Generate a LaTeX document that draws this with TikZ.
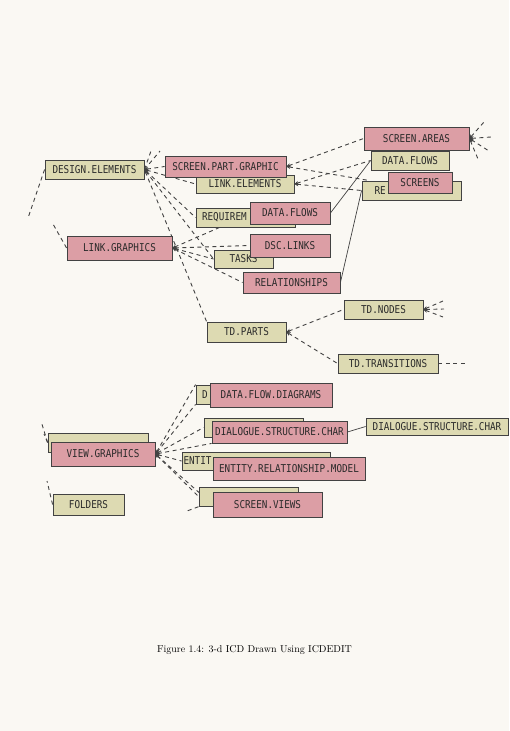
\documentclass[tikz,border=0pt]{standalone}
\usepackage{fontspec}
\usepackage{xcolor}
\usepackage{tikz}
\usetikzlibrary{arrows.meta}
\newfontfamily\icdfont[FakeStretch=0.86]{DejaVu Sans Mono}
\definecolor{paper}{HTML}{FAF8F3}
\definecolor{tanfill}{HTML}{DDDAB2}
\definecolor{pinkfill}{HTML}{DC9EA5}
\definecolor{edge}{HTML}{424242}
\definecolor{ink}{HTML}{2A2A2A}
\pgfdeclarelayer{paperlayer}
\pgfdeclarelayer{links}
\pgfsetlayers{paperlayer,links,main}

\begin{document}
\begin{tikzpicture}[x=1pt, y=-1pt, >={Stealth[length=4pt,width=3.8pt]},
  icdbox/.style={draw=edge, line width=0.85pt, inner sep=0pt, text=ink,
                 font=\icdfont\fontsize{10.8}{12}\selectfont},
  tanbox/.style={icdbox, fill=tanfill},
  pinkbox/.style={icdbox, fill=pinkfill},
  link/.style={draw=edge, line width=0.9pt, dash pattern=on 4pt off 3.5pt},
  solidlink/.style={draw=edge, line width=0.7pt}]
  \begin{pgfonlayer}{paperlayer}
    \fill[paper] (0,0) rectangle (509,731);
  \end{pgfonlayer}
  \useasboundingbox (0,0) rectangle (509,731);

  % upper group
  \node[tanbox, minimum width=99pt, minimum height=19pt] (de) at (94.5,169.5) {DESIGN.ELEMENTS};
  \node[tanbox, minimum width=98pt, minimum height=18pt] (le) at (245,184) {LINK.ELEMENTS};
  \node[pinkbox, minimum width=121pt, minimum height=21pt] (spg) at (225.5,166.5) {SCREEN.PART.GRAPHIC};
  \node[tanbox, text width=87pt, inner xsep=6pt, minimum height=19pt, align=left] (req) at (245.5,217.5) {REQUIREM};
  \node[pinkbox, minimum width=80pt, minimum height=22pt] (dfl) at (290,213) {DATA.FLOWS};
  \node[pinkbox, minimum width=105pt, minimum height=24pt] (lg) at (119.5,248) {LINK.GRAPHICS};
  \node[tanbox, minimum width=59pt, minimum height=18pt] (tasks) at (243.5,259) {TASKS};
  \node[pinkbox, minimum width=80pt, minimum height=23pt] (dsc) at (290,245.5) {DSC.LINKS};
  \node[pinkbox, minimum width=97pt, minimum height=21pt] (rel) at (291.5,282.5) {RELATIONSHIPS};
  \node[pinkbox, minimum width=105pt, minimum height=23pt] (sa) at (416.5,138.5) {SCREEN.AREAS};
  \node[tanbox, minimum width=78pt, minimum height=19pt] (dft) at (410,160.5) {DATA.FLOWS};
  \node[tanbox, text width=86pt, inner xsep=6.5pt, minimum height=19pt, align=left] (ret) at (411.5,190.5) {\hspace*{6pt}RE};
  \node[pinkbox, minimum width=64pt, minimum height=21pt] (scr) at (420,182.5) {SCREENS};
  \node[tanbox, minimum width=79pt, minimum height=19pt] (tdn) at (383.5,309.5) {TD.NODES};
  \node[tanbox, minimum width=79pt, minimum height=20pt] (tdp) at (246.5,332) {TD.PARTS};
  \node[tanbox, minimum width=100pt, minimum height=19pt] (tdt) at (388,363.5) {TD.TRANSITIONS};

  % lower group
  \node[tanbox, minimum width=100pt, minimum height=19pt] (dvt) at (98,442.5) {};
  \node[pinkbox, minimum width=104pt, minimum height=24pt] (vg) at (103,454) {VIEW.GRAPHICS};
  \node[tanbox, minimum width=71pt, minimum height=21pt] (fold) at (88.5,504.5) {FOLDERS};
  \node[tanbox, text width=88pt, inner xsep=6pt, minimum height=19pt, align=left] (dfdt) at (246,394.5) {D};
  \node[pinkbox, minimum width=122pt, minimum height=24pt] (dfdp) at (271,395) {DATA.FLOW.DIAGRAMS};
  \node[tanbox, minimum width=99pt, minimum height=19pt] (dlgt) at (253.5,427.5) {};
  \node[pinkbox, minimum width=135pt, minimum height=22pt] (dlgp) at (279.5,432) {DIALOGUE.STRUCTURE.CHAR};
  \node[tanbox, minimum width=142pt, minimum height=17pt] (dlgr) at (437,426.5) {DIALOGUE.STRUCTURE.CHAR};
  \node[tanbox, text width=145pt, inner xsep=1.5pt, minimum height=18pt, align=left] (ermt) at (256,461) {ENTIT};
  \node[pinkbox, minimum width=152pt, minimum height=23pt] (ermp) at (289,468.5) {ENTITY.RELATIONSHIP.MODEL};
  \node[tanbox, minimum width=99pt, minimum height=19pt] (svt) at (248.5,496.5) {};
  \node[pinkbox, minimum width=109pt, minimum height=25pt] (svp) at (267.5,504.5) {SCREEN.VIEWS};

  \node[font=\fontsize{10}{12}\selectfont] (cap) at (254.5,650) {Figure 1.4: 3-d ICD Drawn Using ICDEDIT};

  % loose ends
  \coordinate (deu1) at (151,151);
  \coordinate (deu2) at (160,151);
  \coordinate (dew) at (28,218);
  \coordinate (lgw) at (53,224);
  \coordinate (sa1) at (484,122);
  \coordinate (sa2) at (491,137);
  \coordinate (sa3) at (489,151);
  \coordinate (sa4) at (478,159);
  \coordinate (tdn1) at (443,301);
  \coordinate (tdn2) at (444,309);
  \coordinate (tdn3) at (443,317);
  \coordinate (tdte) at (465,363.5);
  \coordinate (dvw1) at (41,421);
  \coordinate (dvw2) at (44,434);
  \coordinate (foldw) at (47,481);
  \coordinate (svw) at (187,511);

  \begin{pgfonlayer}{links}
    \draw[link,<-] (de.east) -- (spg.west);
    \draw[link,<-] (de.east) -- (le.west);
    \draw[link,<-] (de.east) -- (req.west);
    \draw[link,<-] (de.east) -- (tasks.west);
    \draw[link,<-] (de.east) -- (tdp.north west);
    \draw[link] (de.east) -- (deu1);
    \draw[link] (de.east) -- (deu2);
    \draw[link] (de.west) -- (dew);
    \draw[link,<-] (lg.east) -- ([xshift=24pt]req.south west);
    \draw[link,<-] (lg.east) -- (dsc.west);
    \draw[link,<-] (lg.east) -- (tasks.west);
    \draw[link,<-] (lg.east) -- (rel.west);
    \draw[link] (lg.west) -- (lgw);
    \draw[link,<-] (spg.east) -- (sa.west);
    \draw[link,<-] (spg.east) -- ([xshift=8pt]ret.north west);
    \draw[link,<-] (le.east) -- (dft.west);
    \draw[link,<-] (le.east) -- (ret.west);
    \draw[solidlink] (dfl.east) -- (dft.west);
    \draw[solidlink] (rel.east) -- (ret.west);
    \draw[link,<-] (sa.east) -- (sa1);
    \draw[link,<-] (sa.east) -- (sa2);
    \draw[link,<-] (sa.east) -- (sa3);
    \draw[link,<-] (sa.east) -- (sa4);
    \draw[link,<-] (tdn.east) -- (tdn1);
    \draw[link,<-] (tdn.east) -- (tdn2);
    \draw[link,<-] (tdn.east) -- (tdn3);
    \draw[link,<-] (tdp.east) -- (tdn.west);
    \draw[link,<-] (tdp.east) -- (tdt.west);
    \draw[link] (tdt.east) -- (tdte);
    \draw[link,<-] (vg.east) -- (dfdt.north west);
    \draw[link,<-] (vg.east) -- (dfdt.south west);
    \draw[link,<-] (vg.east) -- (dlgt.west);
    \draw[link,<-] (vg.east) -- (dlgp.south west);
    \draw[link,<-] (vg.east) -- (ermt.west);
    \draw[link,<-] (vg.east) -- (svt.west);
    \draw[link,<-] (vg.east) -- (svp.west);
    \draw[solidlink] (dlgp.east) -- (dlgr.west);
    \draw[link] (dvt.west) -- (dvw1);
    \draw[link] (dvt.west) -- (dvw2);
    \draw[link] (fold.west) -- (foldw);
    \draw[link] ([yshift=3pt]svp.west) -- (svw);
  \end{pgfonlayer}
\end{tikzpicture}
\end{document}
